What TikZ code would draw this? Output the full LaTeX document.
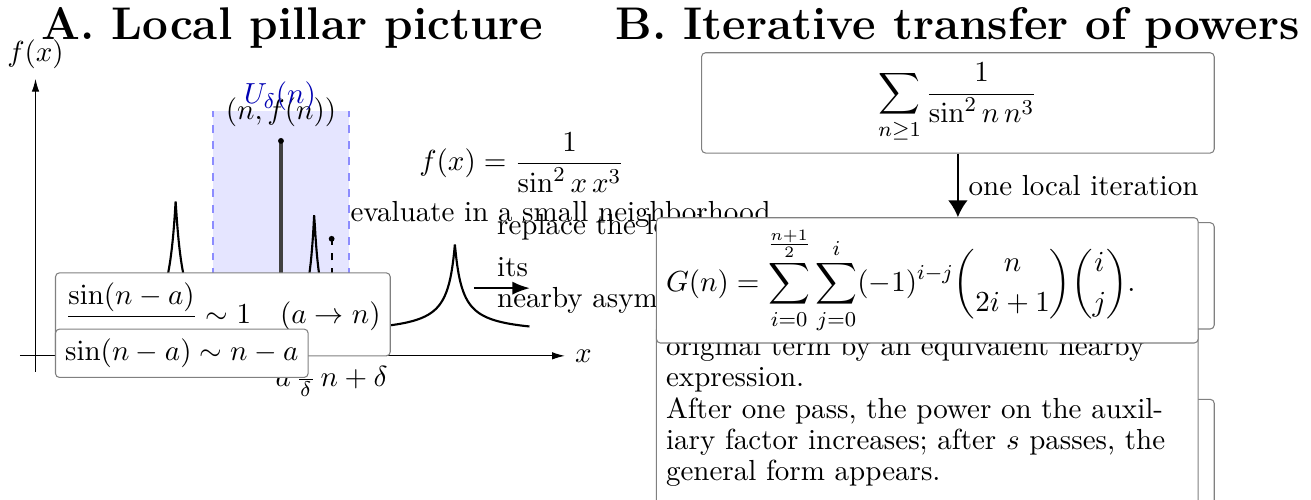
\documentclass[tikz,border=0pt,11pt]{standalone}
\usepackage{amsmath}
\usepackage{tikz}
\usetikzlibrary{arrows.meta}
\linespread{0.87}

\begin{document}
\begin{tikzpicture}[
  asym/.style={rectangle, rounded corners=1.5pt, draw=gray, fill=white},
  stagebox/.style={rectangle, rounded corners=1.5pt, draw=gray, fill=white,
                   minimum width=6.8cm, minimum height=1.33cm},
  notebox/.style={rectangle, rounded corners=1.5pt, draw=gray, fill=white,
                  text width=6.93cm, align=left},
  spike/.style={thick, samples=201},
  axis/.style={-{Latex[width=2.8pt]}}
]
\useasboundingbox (0,0) rectangle (17.39,6.63);

\node[font=\LARGE\bfseries, anchor=base] (titleA) at (3.88,6.11) {A. Local pillar picture};
\node[font=\LARGE\bfseries, anchor=base] (titleB) at (12.70,6.11) {B. Iterative transfer of powers};

% neighbourhood of n
\coordinate (Ubl) at (2.825,1.91);
\coordinate (Utr) at (4.629,5.159);
\fill[blue!10] (Ubl) rectangle (Utr);
\draw[blue!45, dashed] (Ubl) -- (Ubl |- Utr) (Utr |- Ubl) -- (Utr);

\coordinate (xL) at (0.265,1.91);
\coordinate (xR) at (7.493,1.91);
\coordinate (yB) at (0.471,1.698);
\coordinate (yT) at (0.471,5.584);
\draw[axis] (xL) -- (xR) node[right] (xlab) {$x$};
\draw[axis] (yB) -- (yT) node[above] (ylab) {$f(x)$};

\draw[spike] plot[domain=-1:1] ({2.330+\x},{1.91+2.059/(1+abs(\x)/0.114)});
\draw[spike] plot[domain=-0.9:0.9] ({4.168+\x},{1.91+1.892/(1+abs(\x)/0.0875)});

\coordinate (nB) at (3.727,1.91);
\coordinate (nT) at (3.727,4.761);
\draw[line width=1.4pt, black!75] (nB) -- (nT);
\fill (nT) circle (1.1pt);
\coordinate (aB) at (4.399,1.91);
\coordinate (aT) at (4.399,3.462);
\draw[thick, dashed] (aB) -- (aT);
\fill (aT) circle (1.1pt);

\node[anchor=base] (nlab) at (3.727,5.046) {$(n,f(n))$};
\node[anchor=base, text=blue!70!black] (Ulab) at (3.714,5.252) {$U_\delta(n)$};

% local picture
\draw[spike, samples=199] plot[domain=-0.99:0.99] ({6.034+\x},{2.188+1.207/(1+abs(\x)/0.1008)});
\node[anchor=base] (fdef) at (6.923,4.363) {$\displaystyle f(x)=\frac{1}{\sin^2 x\,x^3}$};
\node[anchor=base west] (evaltxt) at (4.515,3.687) {evaluate in a small neighborhood};
\node[anchor=base west, align=left] (repltxt) at (6.460,2.546) {replace the local\\[3.9pt]its\\nearby asymptotic};
\coordinate (arL) at (6.286,2.808);
\coordinate (arR) at (7.029,2.808);
\draw[thick, -{Latex}] (arL) -- (arR);

\node[anchor=base] (alab) at (4.399,1.499) {$a\,\frac{\hphantom{n}}{\delta}\,n+\delta$};
\node[asym, anchor=west] (ratio) at (0.729,2.46) {$\dfrac{\sin(n-a)}{n-a}\sim 1\quad(a\to n)$};
\node[asym, anchor=west] (equiv) at (0.729,1.944) {$\sin(n-a)\sim n-a$};

% iteration
\node[stagebox] (sum) at (12.706,5.265) {$\displaystyle\sum_{n\ge 1}\frac{1}{\sin^2 n\,n^3}$};
\node[stagebox, minimum height=1.41cm] (pass) at (12.706,2.971) {};
\node[stagebox, minimum height=1.6cm, anchor=north] (general) at (12.706,1.34) {};
\node[notebox, anchor=base west, text depth=2cm] (note) at (8.7,1.914)
  {original term by an equivalent nearby expression.\\
   After one pass, the power on the auxiliary factor increases; after $s$ passes, the general form appears.};
\node[notebox, anchor=west] (gform) at (8.7,2.911)
  {$\displaystyle G(n)=\sum_{i=0}^{\frac{n+1}{2}}\sum_{j=0}^{i}(-1)^{i-j}\binom{n}{2i+1}\binom{i}{j}.$};
\draw[thick, -{Latex[length=6.4pt,width=7.5pt]}] (sum.south) -- (sum.south |- gform.north)
  node[midway, right] (iterlab) {one local iteration};
\end{tikzpicture}
\end{document}
